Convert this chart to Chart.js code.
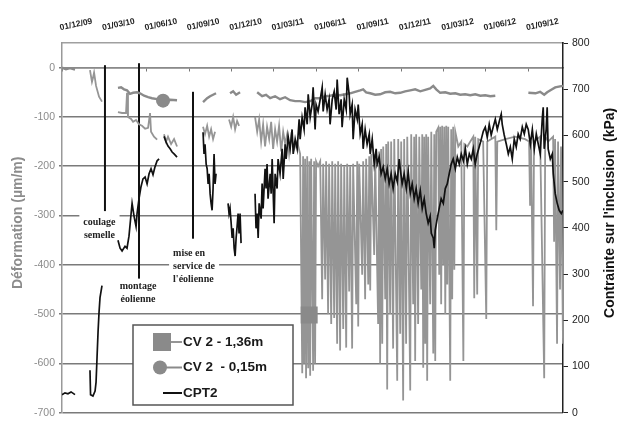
<!DOCTYPE html>
<html>
<head>
<meta charset="utf-8">
<script src="https://cdn.jsdelivr.net/npm/chart.js@4.4.1/dist/chart.umd.min.js"></script>
<style>
html, body { margin: 0; padding: 0; background: #fff; }
#c { display: block; }
</style>
</head>
<body>
<canvas id="c" width="627" height="423"></canvas>
<script>
// axe x : mois depuis le 01/12/09 (une étiquette tous les 3 mois)
var dateLabels = ['01/12/09', '01/03/10', '01/06/10', '01/09/10', '01/12/10', '01/03/11',
                  '01/06/11', '01/09/11', '01/12/11', '01/03/12', '01/06/12', '01/09/12'];
var xMax = 35.45;

// CV 2 - 1,36m (µm/m, axe gauche) ; null = trou dans les mesures
var cv136 = [
  [1.98,-5],[2.12,-29],[2.19,-21],[2.27,-10],[2.41,-37],[2.62,-59],[2.83,-69], null,
  [3.96,-90],[4.25,-92],[4.53,-92],[4.6,-51],[4.67,-100],[4.89,-104],[5.03,-110],[5.24,-106],[5.45,-115],
  [5.66,-118],[5.88,-124],[6.09,-122],[6.23,-92],[6.3,-130],[6.51,-140],[6.73,-146], null,
  [7.22,-135],[7.36,-150],[7.5,-140],[7.72,-155],[7.93,-145],[8.14,-160], null,
  [9.98,-120],[10.12,-135],[10.27,-118],[10.41,-140],[10.55,-125],[10.69,-145],[10.83,-130], null,
  [11.82,-105],[11.97,-120],[12.11,-100],[12.25,-125],[12.39,-108],[12.53,-118], null,
  [13.66,-100],[13.81,-130],[13.95,-105],[14.09,-150],[14.23,-115],[14.37,-160],[14.51,-120],[14.66,-145],
  [14.8,-110],[14.94,-165],[15.08,-125],[15.22,-150],[15.36,-118],[15.51,-170],[15.65,-130],[15.79,-155],
  [15.93,-135],[16.07,-175],[16.21,-140],[16.43,-165],[16.64,-150],
  [16.85,-175],[17.0,-620],[17.06,-180],[17.13,-600],[17.2,-185],[17.27,-630],[17.35,-180],[17.42,-610],
  [17.49,-502],[17.5,-190],[17.56,-625],[17.63,-185],[17.77,-615],[17.84,-190],[17.91,-600],[17.98,-190],[18.12,-200],
  [18.27,-190],[18.41,-470],[18.48,-195],[18.62,-430],[18.69,-190],[18.83,-500],[18.9,-195],[19.05,-520],
  [19.12,-190],[19.26,-508],[19.33,-195],[19.47,-560],[19.54,-190],[19.68,-574],[19.75,-195],[19.9,-530],
  [19.97,-200],[20.11,-568],[20.18,-195],[20.32,-454],[20.39,-200],[20.53,-570],[20.6,-195],[20.82,-480],
  [20.89,-190],[20.96,-525],[21.03,-195],[21.24,-420],[21.31,-190],[21.45,-470],[21.52,-185],[21.67,-440],
  [21.74,-180],[21.81,-452],[21.88,-175],[22.09,-380],[22.16,-175],[22.37,-520],[22.44,-170],[22.51,-600],
  [22.58,-165],[22.66,-560],[22.73,-160],[22.87,-470],[22.94,-155],[23.01,-653],[23.08,-150],[23.22,-500],
  [23.29,-150],[23.43,-570],[23.51,-145],[23.72,-635],[23.79,-145],[23.93,-540],[24.0,-150],[24.14,-675],
  [24.21,-145],[24.35,-560],[24.43,-140],[24.64,-655],[24.71,-135],[24.85,-480],[24.92,-140],[24.99,-595],
  [25.06,-135],[25.2,-520],[25.28,-140],[25.42,-450],[25.49,-135],[25.56,-609],[25.63,-140],[25.7,-560],
  [25.77,-135],[25.84,-635],[25.91,-140],[26.05,-480],[26.13,-130],[26.27,-580],[26.34,-135],[26.41,-595],
  [26.48,-130],[26.62,-122],[26.69,-420],[26.76,-120],[26.83,-480],[26.9,-118],[26.98,-400],[27.05,-120],
  [27.12,-500],[27.19,-118],[27.26,-440],[27.33,-120],[27.4,-390],[27.47,-635],[27.54,-125],[27.61,-470],
  [27.68,-120],[27.76,-410],[27.83,-130],
  [28.04,-160],[28.25,-150],[28.4,-595],[28.47,-155],[28.68,-160],[29.1,-140],[29.17,-468],[29.24,-140],
  [29.38,-460],[29.45,-145],[29.8,-150],[30.02,-510],[30.09,-150],[30.66,-140],[30.73,-330],[30.8,-150],
  [31.37,-145],[32.06,-140],[32.77,-145],[33.05,-150],[33.12,-280],[33.19,-150],[33.33,-484],[33.4,-150],
  [33.83,-140],[34.12,-630],[34.19,-140],[34.4,-150],[34.75,-140],[34.82,-353],[34.89,-145],[35.03,-560],
  [35.1,-150],[35.24,-450],[35.31,-160],[35.45,-560]
];
var cv136MarkX = 17.49;

// CV 2 - 0,15m (µm/m, axe gauche)
var cv015 = [
  [0,0],[0.28,-3],[0.57,-1],[0.92,-4], null,
  [3.96,-41],[4.18,-40],[4.39,-44],[4.6,-46],[4.81,-53],[5.03,-51],[5.31,-50],[5.52,-52],[5.81,-57],
  [6.09,-60],[6.37,-62],[6.73,-64],[7.15,-67],[7.65,-65],[8.14,-66], null,
  [9.98,-70],[10.27,-62],[10.48,-58],[10.69,-55],[10.9,-52], null,
  [11.89,-52],[12.11,-48],[12.32,-55],[12.6,-50], null,
  [13.81,-50],[14.16,-58],[14.44,-55],[14.73,-62],[15.08,-58],[15.43,-64],[15.79,-60],[16.14,-66],
  [16.5,-68],[16.85,-68],[17.2,-70],[17.56,-68],[17.91,-62],[18.27,-62],[18.62,-58],[18.97,-57],
  [19.33,-55],[19.68,-56],[20.04,-54],[20.39,-52],[20.74,-49],[21.1,-46],[21.31,-44],[21.52,-50],
  [21.81,-52],[22.16,-55],[22.51,-54],[22.87,-50],[23.22,-49],[23.58,-52],[23.93,-51],[24.28,-48],
  [24.64,-46],[24.99,-44],[25.35,-48],[25.7,-45],[26.05,-42],[26.27,-37],[26.48,-44],[26.76,-51],
  [27.12,-50],[27.47,-53],[27.83,-52],[28.18,-55],[28.53,-54],[28.89,-56],[29.24,-54],[29.6,-57],
  [29.95,-56],[30.3,-58],[30.66,-57], null,
  [33.0,-51],[33.5,-52],[33.83,-49],[34.12,-55],[34.33,-50],[34.62,-45],[34.9,-40],[35.24,-38],[35.45,-37]
];
var cv015MarkX = 7.15;

// CPT2 (kPa, axe droit)
var cpt2 = [
  [0,39],[0.21,43],[0.42,41],[0.64,45],[0.92,39], null,
  [1.98,92],[2.02,39],[2.19,36],[2.34,47],[2.41,66],[2.48,120],[2.55,174],[2.62,217],[2.69,249],[2.83,275], null,
  [3.96,373],[4.11,356],[4.25,350],[4.46,360],[4.6,356],[4.74,382],[4.89,431],[4.96,453],[5.1,425],
  [5.24,403],[5.31,431],[5.45,463],[5.59,489],[5.73,506],[5.88,510],[6.02,495],[6.16,517],[6.3,528],
  [6.44,515],[6.58,532],[6.73,545],[6.87,549], null,
  [7.22,598],[7.36,586],[7.5,577],[7.65,571],[7.79,564],[7.93,560],[8.14,553], null,
  [9.98,607],[10.05,560],[10.12,581],[10.2,538],[10.27,528],[10.34,495],[10.41,517],[10.48,474],
  [10.55,453],[10.62,438],[10.69,485],[10.76,560],[10.83,495],[10.9,517], null,
  [11.75,453],[11.82,431],[11.89,442],[11.97,410],[12.04,378],[12.11,399],[12.18,356],[12.25,339],
  [12.32,378],[12.39,403],[12.46,431],[12.53,388],[12.6,431],[12.67,367], null,
  [13.66,474],[13.73,399],[13.81,431],[13.88,378],[13.95,453],[14.09,420],[14.16,496],[14.23,442],
  [14.37,528],[14.44,485],[14.51,538],[14.58,463],[14.73,517],[14.8,474],[14.87,549],[15.01,410],
  [15.08,517],[15.22,485],[15.29,549],[15.43,517],[15.58,571],[15.65,506],[15.79,581],[15.86,549],
  [16.0,598],[16.14,571],[16.28,613],[16.36,560],[16.5,592],[16.64,571],[16.78,635],[16.85,592],
  [16.99,639],[17.13,613],[17.2,661],[17.35,624],[17.42,689],[17.56,639],[17.7,667],[17.77,704],
  [17.91,613],[17.98,667],[18.12,652],[18.27,678],[18.41,704],[18.48,652],[18.62,689],[18.76,656],
  [18.9,678],[18.97,624],[19.12,678],[19.26,695],[19.4,656],[19.47,721],[19.61,646],[19.75,678],
  [19.82,618],[19.97,678],[20.11,656],[20.18,725],[20.32,689],[20.39,646],[20.53,667],[20.6,592],
  [20.74,656],[20.89,635],[20.96,667],[21.1,603],[21.24,624],[21.31,571],[21.45,613],[21.59,581],
  [21.74,603],[21.81,560],[21.95,592],[22.09,538],[22.23,571],[22.3,538],[22.44,553],[22.58,517],
  [22.73,532],[22.87,506],[23.01,528],[23.15,495],[23.29,517],[23.43,485],[23.58,517],[23.72,500],
  [23.86,549],[23.93,528],[24.07,495],[24.21,517],[24.36,485],[24.5,521],[24.64,474],[24.78,495],
  [24.92,463],[25.06,485],[25.2,453],[25.35,481],[25.49,442],[25.63,463],[25.77,431],[25.91,410],
  [26.05,425],[26.13,388],[26.27,378],[26.34,356],[26.41,395],[26.55,420],[26.69,442],[26.83,463],
  [26.98,453],[27.12,485],[27.26,495],[27.4,517],[27.54,538],[27.68,549],[27.83,528],[27.97,553],
  [28.11,538],[28.25,560],[28.4,545],[28.54,571],[28.68,538],[28.82,560],[28.96,549],[29.1,571],
  [29.24,538],[29.38,560],[29.52,575],[29.67,592],[29.81,609],[29.95,618],[30.09,596],[30.23,624],
  [30.37,601],[30.51,618],[30.66,635],[30.8,613],[30.94,630],[31.08,646],[31.15,624],[31.29,601],
  [31.44,581],[31.58,560],[31.72,575],[31.86,549],[32.0,592],[32.14,575],[32.28,603],[32.42,592],
  [32.57,618],[32.71,603],[32.85,624],[32.99,613],[33.14,581],[33.28,613],[33.42,571],[33.56,603],
  [33.7,581],[33.84,560],[33.98,635],[34.05,661],[34.12,571],[34.26,613],[34.33,661],[34.4,571],
  [34.55,549],[34.69,560],[34.76,517],[34.9,474],[35.04,453],[35.18,438],[35.33,431],[35.45,438]
];

// événements du chantier (traits verticaux, µm/m)
var eventX = [3.04, 5.45, 9.27];
var eventTop = [5, 9, -49];
var eventBottom = [-291, -428, -347];
var eventText = [['coulage', 'semelle'], ['montage', 'éolienne'], ['mise en', 'service de', "l'éolienne"]];
var eventTextX = [2.65, 5.38, 7.86];
var eventTextY = [-313, -444, -377];
var eventAlign = ['center', 'center', 'left'];

function toPoints(pairs) {
    var lastX = 0;
    return pairs.map(function (p) {
        if (!p) return { x: lastX, y: null };
        lastX = p[0];
        return { x: p[0], y: p[1] };
    });
}

// un tick par étiquette de date (tous les 3 mois)
function quarterTicks(scale) {
    scale.ticks = dateLabels.map(function (l, i) { return { value: i * 3 }; });
}

Chart.defaults.font.family = '"Liberation Sans", Arial, sans-serif';

// textes et cadres des événements
var eventsPlugin = {
    id: 'events',
    beforeDatasetsDraw: function (chart) {
        var ctx = chart.ctx, sx = chart.scales.x, sy = chart.scales.y;
        ctx.save();
        ctx.font = 'bold 10px "Liberation Serif", serif';
        ctx.textBaseline = 'middle';
        for (var i = 0; i < eventX.length; i++) {
            var lines = eventText[i];
            var tx = sx.getPixelForValue(eventTextX[i]);
            var ty = sy.getPixelForValue(eventTextY[i]);
            var w = 0;
            lines.forEach(function (t) { w = Math.max(w, ctx.measureText(t).width); });
            var left = eventAlign[i] === 'left' ? tx : tx - w / 2;
            ctx.fillStyle = '#fff';
            ctx.fillRect(left - 4, ty - 9, w + 8, lines.length * 13 + 4);
            ctx.fillStyle = '#222';
            ctx.textAlign = eventAlign[i];
            for (var k = 0; k < lines.length; k++) ctx.fillText(lines[k], tx, ty + k * 13);

            var lx = sx.getPixelForValue(eventX[i]);
            ctx.strokeStyle = '#111';
            ctx.lineWidth = 2;
            ctx.beginPath();
            ctx.moveTo(lx, sy.getPixelForValue(eventTop[i]));
            ctx.lineTo(lx, sy.getPixelForValue(eventBottom[i]));
            ctx.stroke();
        }
        ctx.restore();
    }
};

// légende encadrée dans la zone du graphique
var boxLegend = {
    id: 'boxLegend',
    afterDatasetsDraw: function (chart) {
        var ctx = chart.ctx;
        var bx = 133, by = 325, bw = 160, bh = 80;
        ctx.save();
        ctx.fillStyle = '#fff';
        ctx.fillRect(bx, by, bw, bh);
        ctx.strokeStyle = '#555';
        ctx.lineWidth = 1.5;
        ctx.strokeRect(bx, by, bw, bh);
        ctx.font = 'bold 13.5px "Liberation Sans", Arial, sans-serif';
        ctx.textBaseline = 'middle';
        ctx.textAlign = 'left';
        chart.data.datasets.forEach(function (ds, i) {
            var cy = by + 17 + i * 25.5;
            ctx.strokeStyle = ds.borderColor;
            ctx.lineWidth = 2;
            ctx.beginPath();
            ctx.moveTo(bx + 30, cy);
            ctx.lineTo(bx + 49, cy);
            ctx.stroke();
            ctx.fillStyle = ds.pointBackgroundColor;
            if (ds.pointStyle === 'rect') {
                ctx.fillRect(bx + 20, cy - 9, 18, 18);
            } else if (ds.pointStyle === 'circle') {
                ctx.beginPath();
                ctx.arc(bx + 27, cy, 7, 0, Math.PI * 2);
                ctx.fill();
            }
            ctx.fillStyle = '#1a1a1a';
            ctx.fillText(ds.label, bx + 50, cy);
        });
        ctx.restore();
    }
};

// titres des axes (le titre de droite se lit de bas en haut)
var axisTitles = {
    id: 'axisTitles',
    afterDraw: function (chart) {
        var ctx = chart.ctx, a = chart.chartArea;
        ctx.save();
        ctx.font = 'bold 14px "Liberation Sans", Arial, sans-serif';
        ctx.textAlign = 'center';
        ctx.textBaseline = 'middle';
        ctx.translate(18, (a.top + a.bottom) / 2 - 5);
        ctx.rotate(-Math.PI / 2);
        ctx.fillStyle = '#8c8c8c';
        ctx.fillText('Déformation (µm/m)', 0, 0);
        ctx.restore();
        ctx.save();
        ctx.font = 'bold 14px "Liberation Sans", Arial, sans-serif';
        ctx.textAlign = 'center';
        ctx.textBaseline = 'middle';
        ctx.translate(610, (a.top + a.bottom) / 2 - 15);
        ctx.rotate(-Math.PI / 2);
        ctx.fillStyle = '#111';
        ctx.fillText("Contrainte sur l'inclusion  (kPa)", 0, 0);
        ctx.restore();
    }
};

new Chart(document.getElementById('c'), {
    type: 'line',
    data: {
        datasets: [{
            label: 'CV 2 - 1,36m',
            data: toPoints(cv136),
            yAxisID: 'y',
            order: 2,
            borderColor: '#959595',
            borderWidth: 1.8,
            pointStyle: 'rect',
            pointBackgroundColor: '#8a8a8a',
            pointBorderWidth: 0,
            pointRadius: function (c) { return c.raw && c.raw.x === cv136MarkX ? 12 : 0; }
        }, {
            label: 'CV 2  - 0,15m',
            data: toPoints(cv015),
            yAxisID: 'y',
            order: 1,
            borderColor: '#8a8a8a',
            borderWidth: 2.4,
            pointStyle: 'circle',
            pointBackgroundColor: '#8a8a8a',
            pointBorderWidth: 0,
            pointRadius: function (c) { return c.raw && c.raw.x === cv015MarkX ? 7 : 0; }
        }, {
            label: 'CPT2',
            data: toPoints(cpt2),
            yAxisID: 'y2',
            order: 0,
            borderColor: '#111',
            borderWidth: 1.7,
            pointRadius: 0
        }]
    },
    options: {
        responsive: false,
        animation: false,
        events: [],
        spanGaps: false,
        layout: { padding: { top: 0, left: 0, right: 0, bottom: 7 } },
        plugins: { legend: { display: false }, tooltip: { enabled: false } },
        scales: {
            x: {
                type: 'linear',
                position: 'top',
                min: 0,
                max: xMax,
                afterBuildTicks: quarterTicks,
                afterFit: function (s) { s.height = 43; },
                ticks: {
                    autoSkip: false,
                    minRotation: 12,
                    maxRotation: 12,
                    padding: 10,
                    color: '#222',
                    font: { size: 8.5, weight: 'bold' },
                    callback: function (v) { return dateLabels[Math.round(v / 3)]; }
                },
                grid: { display: false, drawTicks: false },
                border: { display: true, color: '#a0a0a0', width: 1.5 }
            },
            xz: {
                type: 'linear',
                position: { y: 0 },
                min: 0,
                max: xMax,
                afterBuildTicks: quarterTicks,
                ticks: { display: false },
                grid: { drawOnChartArea: false, drawTicks: true, tickLength: 3, color: '#777' },
                border: { color: '#8a8a8a', width: 1.5 }
            },
            y: {
                type: 'linear',
                position: 'left',
                min: -700,
                max: 50,
                afterBuildTicks: function (s) { s.ticks = s.ticks.filter(function (t) { return t.value <= 0; }); },
                afterFit: function (s) { s.width = 62; },
                ticks: { stepSize: 100, color: '#8c8c8c', padding: 4, font: { size: 10.5 } },
                grid: { color: '#7a7a7a', lineWidth: 1.5, tickLength: 3 },
                border: { color: '#999', width: 1.5 }
            },
            y2: {
                type: 'linear',
                position: 'right',
                min: 0,
                max: 800,
                afterFit: function (s) { s.width = 64; },
                ticks: { stepSize: 100, color: '#222', padding: 4, font: { size: 10.5 } },
                grid: { drawOnChartArea: false, tickLength: 5, color: '#222' },
                border: { color: '#222', width: 1.5 }
            }
        }
    },
    plugins: [eventsPlugin, boxLegend, axisTitles]
});
</script>
</body>
</html>
